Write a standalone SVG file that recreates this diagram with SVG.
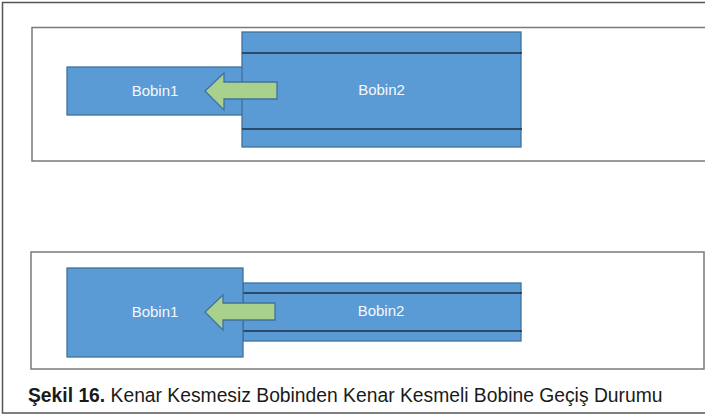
<svg xmlns="http://www.w3.org/2000/svg" width="705" height="415" viewBox="0 0 705 415">
<style>
.frame{fill:none;stroke:#555;stroke-width:1.5}
.panel{fill:#fff;stroke:#7a7a7a;stroke-width:1.5}
.coil{fill:#5b9bd5;stroke:#41719c;stroke-width:1.3}
.band{stroke:#1f2f45;stroke-width:1.5}
.arrow{fill:#a9d18e;stroke:#41719c;stroke-width:1.3}
.lbl{font-family:"Liberation Sans",Arial,sans-serif;font-size:15px;fill:#f4f8fc;text-anchor:middle}
.cap{font-family:"Liberation Sans",Arial,sans-serif;font-size:19.3px;fill:#1a1a1a}
</style>
<rect x="0" y="0" width="705" height="415" fill="#fff"/>
<path class="frame" d="M706,2.5 H2.5 V413 H706"/>
<g id="panel-top">
<rect x="32" y="27" width="673" height="134" fill="#fff"/>
<path class="panel" d="M706,27.5 H32 V161 H706"/>
</g>
<g id="panel-bottom">
<rect class="panel" x="31" y="252" width="673" height="117"/>
</g>
<g id="top-bobin1">
<rect class="coil" x="67" y="67" width="176" height="48"/>
<text class="lbl" x="155" y="96">Bobin1</text>
</g>
<g id="top-bobin2">
<rect class="coil" x="242" y="32" width="279" height="115"/>
<line class="band" x1="242" y1="53" x2="522" y2="53"/>
<line class="band" x1="242" y1="129" x2="522" y2="129"/>
<text class="lbl" x="381.5" y="95">Bobin2</text>
</g>
<g id="bottom-bobin2">
<rect class="coil" x="243" y="283" width="278" height="58"/>
<line class="band" x1="243" y1="293" x2="522" y2="293"/>
<line class="band" x1="243" y1="331" x2="522" y2="331"/>
<text class="lbl" x="381" y="316">Bobin2</text>
</g>
<g id="bottom-bobin1">
<rect class="coil" x="67" y="268" width="176" height="89"/>
<text class="lbl" x="155" y="317">Bobin1</text>
</g>
<g id="connectors">
<path class="arrow" d="M205,91 L224,73 L224,82 L277,82 L277,99 L224,99 L224,110 Z"/>
<path class="arrow" d="M205,312 L223,295 L223,303 L275,303 L275,320 L223,320 L223,330 Z"/>
</g>
<text class="cap" x="28" y="402"><tspan font-weight="bold">Şekil 16.</tspan> Kenar Kesmesiz Bobinden Kenar Kesmeli Bobine Geçiş Durumu</text>
</svg>
